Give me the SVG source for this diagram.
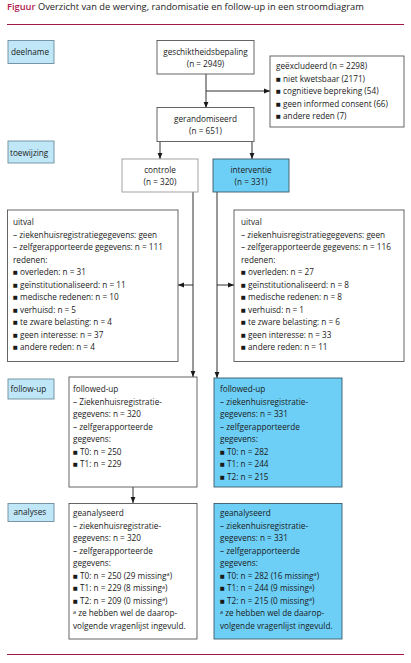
<svg xmlns="http://www.w3.org/2000/svg" width="411" height="663" viewBox="0 0 411 663">
<style>
text{font-family:"Open Sans","Noto Sans",sans-serif;font-size:8.2px;fill:#1a1a1a}
.c{text-anchor:middle}
.box{fill:#fff;stroke:#555;stroke-width:0.9}
.blue{fill:#6dcff6;stroke:#3a5a6a;stroke-width:0.9}
.lab{fill:#bfe7f8;stroke:#6c8c9c;stroke-width:0.9}
.ln{stroke:#1a1a1a;stroke-width:0.9;fill:none}
.rule{stroke:#a0184a;stroke-width:1}
.sup{font-size:5.5px}
</style>
<defs>
<marker id="ah" viewBox="0 0 6 6" refX="6" refY="3" markerWidth="6" markerHeight="6" markerUnits="userSpaceOnUse" orient="auto">
<path d="M0,0.6 L6,3 L0,5.4 z" fill="#1a1a1a"/>
</marker>
</defs>
<g id="title">
<text x="7" y="10" style="font-size:9.3px"><tspan style="fill:#b0174c;font-weight:600">Figuur</tspan> Overzicht van de werving, randomisatie en follow-up in een stroomdiagram</text>
<line class="rule" x1="7" y1="24.5" x2="404" y2="24.5"/>
<line class="rule" x1="7" y1="654.5" x2="404" y2="654.5"/>
</g>
<g id="connectors">
<line class="ln" x1="206" y1="74" x2="206" y2="108" marker-end="url(#ah)"/>
<line class="ln" x1="206" y1="91" x2="270" y2="91" marker-end="url(#ah)"/>
<line class="ln" x1="160" y1="142" x2="160" y2="159" marker-end="url(#ah)"/>
<line class="ln" x1="252" y1="142" x2="252" y2="159" marker-end="url(#ah)"/>
<line class="ln" x1="193" y1="192" x2="193" y2="377" marker-end="url(#ah)"/>
<line class="ln" x1="193" y1="285" x2="178" y2="285" marker-end="url(#ah)"/>
<line class="ln" x1="217" y1="192" x2="217" y2="378" marker-end="url(#ah)"/>
<line class="ln" x1="217" y1="285" x2="234" y2="285" marker-end="url(#ah)"/>
<line class="ln" x1="133" y1="487" x2="133" y2="503" marker-end="url(#ah)"/>
</g>
<g id="deelname">
<rect class="lab" x="8" y="40.5" width="46" height="23"/>
<text x="11" y="55">deelname</text>
</g>
<g id="toewijzing">
<rect class="lab" x="8" y="141" width="46" height="22"/>
<text x="10" y="155.5">toewijzing</text>
</g>
<g id="follow-up-label">
<rect class="lab" x="8" y="379" width="46" height="20"/>
<text x="10.5" y="392">follow-up</text>
</g>
<g id="analyses-label">
<rect class="lab" x="8" y="503.5" width="46" height="18"/>
<text x="13.5" y="515">analyses</text>
</g>
<g id="geschiktheid">
<rect class="box" x="157" y="40.5" width="97" height="33.5"/>
<text class="c" x="205.5" y="54.5">geschiktheidsbepaling</text>
<text class="c" x="205.5" y="67">(n = 2949)</text>
</g>
<g id="geexcludeerd">
<rect class="box" x="270" y="56" width="134" height="71"/>
<text x="276" y="69">geëxcludeerd (n = 2298)</text>
<text x="276" y="81.5">■ niet kwetsbaar (2171)</text>
<text x="276" y="94">■ cognitieve bepreking (54)</text>
<text x="276" y="106.5">■ geen informed consent (66)</text>
<text x="276" y="119">■ andere reden (7)</text>
</g>
<g id="gerandomiseerd">
<rect class="box" x="157" y="107.5" width="97" height="34"/>
<text class="c" x="205.5" y="121.5">gerandomiseerd</text>
<text class="c" x="205.5" y="134">(n = 651)</text>
</g>
<g id="controle">
<rect class="box" x="122" y="159" width="76" height="33" style="stroke:#999"/>
<text class="c" x="160" y="172.5">controle</text>
<text class="c" x="160" y="185">(n = 320)</text>
</g>
<g id="interventie">
<rect class="blue" x="213" y="159" width="76" height="33"/>
<text class="c" x="251" y="172.5">interventie</text>
<text class="c" x="251" y="185">(n = 331)</text>
</g>
<g id="uitval-controle">
<rect class="box" x="7.5" y="210" width="170.5" height="151.5"/>
<text x="13" y="225">uitval</text>
<text x="13" y="237.5">– ziekenhuisregistratiegegevens: geen</text>
<text x="13" y="250">– zelfgerapporteerde gegevens: n = 111</text>
<text x="13" y="262.5">redenen:</text>
<text x="13" y="275">■ overleden: n = 31</text>
<text x="13" y="287.5">■ geïnstitutionaliseerd: n = 11</text>
<text x="13" y="300">■ medische redenen: n = 10</text>
<text x="13" y="312.5">■ verhuisd: n = 5</text>
<text x="13" y="325">■ te zware belasting: n = 4</text>
<text x="13" y="337.5">■ geen interesse: n = 37</text>
<text x="13" y="350">■ andere reden: n = 4</text>
</g>
<g id="uitval-interventie">
<rect class="box" x="234" y="210" width="170" height="151.5"/>
<text x="241" y="225">uitval</text>
<text x="241" y="237.5">– ziekenhuisregistratiegegevens: geen</text>
<text x="241" y="250">– zelfgerapporteerde gegevens: n = 116</text>
<text x="241" y="262.5">redenen:</text>
<text x="241" y="275">■ overleden: n = 27</text>
<text x="241" y="287.5">■ geïnstitutionaliseerd: n = 8</text>
<text x="241" y="300">■ medische redenen: n = 8</text>
<text x="241" y="312.5">■ verhuisd: n = 1</text>
<text x="241" y="325">■ te zware belasting: n = 6</text>
<text x="241" y="337.5">■ geen interesse: n = 33</text>
<text x="241" y="350">■ andere reden: n = 11</text>
</g>
<g id="followup-controle">
<rect class="box" x="69" y="377" width="128" height="110"/>
<text x="73" y="392">followed-up</text>
<text x="73" y="404.5">– Ziekenhuisregistratie-</text>
<text x="73" y="417">gegevens: n = 320</text>
<text x="73" y="429.5">– zelfgerapporteerde</text>
<text x="73" y="442">gegevens:</text>
<text x="73" y="454.5">■ T0: n = 250</text>
<text x="73" y="467">■ T1: n = 229</text>
</g>
<g id="followup-interventie">
<rect class="blue" x="214" y="378" width="128" height="109"/>
<text x="220" y="392">followed-up</text>
<text x="220" y="404.5">– ziekenhuisregistratie-</text>
<text x="220" y="417">gegevens: n = 331</text>
<text x="220" y="429.5">– zelfgerapporteerde</text>
<text x="220" y="442">gegevens:</text>
<text x="220" y="454.5">■ T0: n = 282</text>
<text x="220" y="467">■ T1: n = 244</text>
<text x="220" y="479.5">■ T2: n = 215</text>
</g>
<g id="analyses-controle">
<rect class="box" x="69" y="503.5" width="128" height="135.5"/>
<text x="73" y="516">geanalyseerd</text>
<text x="73" y="528.5">– ziekenhuisregistratie-</text>
<text x="73" y="541">gegevens: n = 320</text>
<text x="73" y="553.5">– zelfgerapporteerde</text>
<text x="73" y="566">gegevens:</text>
<text x="73" y="578.5">■ T0: n = 250 (29 missing<tspan class="sup" dy="-2.5">a</tspan><tspan dy="2.5">)</tspan></text>
<text x="73" y="591">■ T1: n = 229 (8 missing<tspan class="sup" dy="-2.5">a</tspan><tspan dy="2.5">)</tspan></text>
<text x="73" y="603.5">■ T2: n = 209 (0 missing<tspan class="sup" dy="-2.5">a</tspan><tspan dy="2.5">)</tspan></text>
<text x="73" y="616"><tspan class="sup" dy="-2.5">a</tspan><tspan dy="2.5"> ze hebben wel de daarop-</tspan></text>
<text x="73" y="628.5">volgende vragenlijst ingevuld.</text>
</g>
<g id="analyses-interventie">
<rect class="blue" x="214" y="503.5" width="128" height="135.5"/>
<text x="220" y="516">geanalyseerd</text>
<text x="220" y="528.5">– ziekenhuisregistratie-</text>
<text x="220" y="541">gegevens: n = 331</text>
<text x="220" y="553.5">– zelfgerapporteerde</text>
<text x="220" y="566">gegevens:</text>
<text x="220" y="578.5">■ T0: n = 282 (16 missing<tspan class="sup" dy="-2.5">a</tspan><tspan dy="2.5">)</tspan></text>
<text x="220" y="591">■ T1: n = 244 (9 missing<tspan class="sup" dy="-2.5">a</tspan><tspan dy="2.5">)</tspan></text>
<text x="220" y="603.5">■ T2: n = 215 (0 missing<tspan class="sup" dy="-2.5">a</tspan><tspan dy="2.5">)</tspan></text>
<text x="220" y="616"><tspan class="sup" dy="-2.5">a</tspan><tspan dy="2.5"> ze hebben wel de daarop-</tspan></text>
<text x="220" y="628.5">volgende vragenlijst ingevuld.</text>
</g>
</svg>
